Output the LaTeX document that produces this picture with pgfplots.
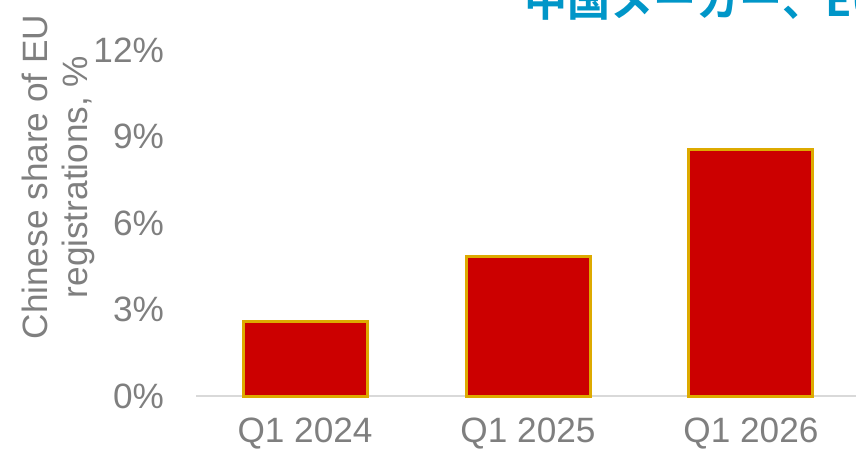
\documentclass[border=0pt]{standalone}
\usepackage{pgfplots}
\pgfplotsset{compat=1.18}
\usepackage{fontspec}
\setmainfont{Liberation Sans}
\newfontfamily\cjk{Noto Sans CJK JP}[BoldFont={Noto Sans CJK JP Bold}]
\definecolor{txtgray}{HTML}{7F7F7F}
\definecolor{axgray}{HTML}{D9D9D9}
\definecolor{barred}{HTML}{CC0000}
\definecolor{bargold}{HTML}{DDAA00}
\definecolor{ttlblue}{HTML}{0096C8}
\begin{document}
\begin{tikzpicture}
\begin{axis}[
  at={(98pt,27pt)}, anchor=south west,
  scale only axis, width=330pt, height=173pt,
  xmin=-0.489, xmax=2.471, ymin=0, ymax=12,
  xtick={0,1,2}, xticklabels={Q1 2024,Q1 2025,Q1 2026},
  ytick={0,3,6,9,12}, yticklabels={0\%,3\%,6\%,9\%,12\%},
  axis line style={draw=none}, major tick length=0pt,
  axis x line*=bottom, axis y line*=left,
  tick label style={font=\fontsize{17.6}{21}\selectfont, text=txtgray},
  yticklabel style={xshift=-12.5pt},
  xticklabel style={yshift=-7.5pt},
  ylabel={Chinese share of EU\\registrations, \%},
  ylabel style={font=\fontsize{17.6}{20}\selectfont, text=txtgray, align=center,
    at={(axis description cs:-0.208,0.633)}, anchor=center},
  clip=false,
]
\draw[axgray, line width=1pt] (axis cs:-0.489,0) -- (axis cs:2.471,0);
\addplot[ybar, bar width=62pt, fill=barred, draw=bargold, line width=1.5pt]
  coordinates {(0,2.6) (1,4.85) (2,8.55)};
\end{axis}
\node[anchor=base west, inner sep=0pt, text=ttlblue, font=\cjk\bfseries\fontsize{21.5}{24}\selectfont] at (262pt,216.5pt) {中国メーカー、EU};
\pgfresetboundingbox
\useasboundingbox (0,0) rectangle (428pt,225pt);
\end{tikzpicture}
\end{document}
